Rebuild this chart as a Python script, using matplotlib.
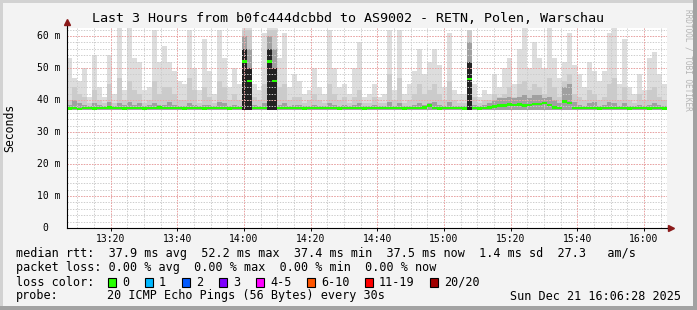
import numpy as np
import matplotlib.pyplot as plt
from matplotlib.patches import Rectangle

plt.rcParams['font.family'] = ['DejaVu Sans Mono']

title = "Last 3 Hours from b0fc444dcbbd to AS9002 - RETN, Polen, Warschau"

# time axis in minutes after 13:00, one smoke step = 1.5 min
t_start = 6.9
t_step = 1.5

median_ms = [
    37.4, 37.5, 37.2, 37.5, 37.5, 37.3, 37.5, 37.5, 37.6, 37.5,
    37.5, 37.3, 37.5, 37.5, 37.5, 37.4, 37.5, 37.5, 37.6, 37.5,
    37.5, 37.5, 37.5, 37.3, 37.5, 37.5, 37.5, 37.4, 37.5, 37.5,
    37.5, 37.5, 37.4, 37.5, 37.5, 52.0, 46.0, 37.5, 37.5, 37.5,
    52.0, 46.0, 37.5, 37.5, 37.5, 37.5, 37.5, 37.3, 37.5, 37.5,
    37.5, 37.5, 37.5, 37.5, 37.3, 37.5, 37.5, 37.5, 37.5, 37.4,
    37.5, 37.5, 37.5, 37.5, 37.5, 37.5, 37.5, 37.4, 37.5, 37.5,
    37.5, 37.6, 38.3, 37.5, 37.3, 37.5, 37.5, 37.5, 37.5, 37.4,
    46.5, 37.5, 37.4, 37.5, 37.6, 37.9, 38.3, 38.2, 38.6, 38.5,
    38.6, 38.3, 38.5, 38.8, 38.7, 39.0, 38.4, 37.6, 37.5, 39.5,
    39.0, 37.5, 37.5, 37.5, 37.5, 37.5, 37.4, 37.5, 37.5, 37.5,
    37.5, 37.5, 37.3, 37.5, 37.5, 37.5, 37.4, 37.5, 37.5, 37.3,
]

# highest ping per step (light smoke top)
smoke_hi = [
    53, 47, 46, 50, 41, 54, 44, 41, 54, 42,
    62.5, 43, 62.5, 53, 52, 43, 44, 62, 52, 57,
    52, 49, 46, 45, 62, 50, 43, 59, 49, 42,
    62, 53, 44, 50, 45, 62.5, 62.5, 45, 43, 61,
    62.5, 62.5, 53, 61, 44, 48, 46, 42, 43, 50,
    44, 42, 62, 50, 44, 45, 42, 50, 58, 41,
    42, 45, 41, 42, 62, 43, 62, 42, 45, 49,
    56, 48, 52, 56, 51, 44, 61, 43, 42, 42,
    62, 45, 41, 43, 42, 48, 44, 50, 53, 45,
    56, 63, 50, 58, 53, 50, 63, 53, 47, 52,
    61, 51, 48, 44, 52, 49, 46, 49, 61, 63,
    45, 59, 44, 42, 48, 43, 53, 55, 48, 45,
]

# upper pings (medium grey smoke top)
smoke_mid = [
    40, 44, 42, 41, 39, 43, 40, 39, 45, 39,
    47, 40, 46, 43, 42, 39, 40, 46, 42, 44,
    44, 42, 40, 40, 47, 43, 39, 44, 41, 39,
    46, 44, 40, 42, 40, 62, 62, 41, 40, 45,
    62, 62, 44, 45, 40, 41, 41, 39, 40, 42,
    40, 39, 45, 42, 40, 41, 39, 41, 43, 39,
    39, 41, 39, 39, 48, 40, 47, 39, 40, 42,
    45, 42, 43, 45, 42, 40, 46, 40, 39, 39,
    62, 41, 39, 40, 40, 42, 41, 42, 44, 41,
    45, 46, 43, 45, 44, 42, 47, 44, 41, 46,
    48, 42, 41, 40, 43, 42, 40, 41, 45, 47,
    40, 44, 40, 39, 42, 40, 43, 44, 41, 40,
]

# inner pings (dark smoke top)
smoke_dark = [
    38.5, 40, 39, 38.5, 38, 39, 38.5, 38, 39.5, 38,
    39, 38.5, 39.5, 38.5, 39, 38, 38.5, 39, 38.5, 38.5,
    39.5, 38.5, 38, 38, 39, 38.5, 38, 38.5, 38.5, 38,
    39.5, 39, 38, 38.5, 38, 60, 56, 38.5, 38, 39,
    60, 56, 38.5, 39, 38, 38.5, 38.5, 38, 38, 38.5,
    38, 38, 39, 38.5, 38, 38.5, 38, 38.5, 39, 38,
    38, 38.5, 38, 38, 39.5, 38, 39, 38, 38, 38.5,
    39, 38.5, 39, 39.5, 38.5, 38, 39.5, 38, 38, 38,
    58, 38.5, 38, 38.5, 39, 40, 40.5, 40.5, 41, 40.5,
    41, 41.5, 40.5, 41.5, 41.5, 40.5, 41, 40, 39, 44,
    45, 39.5, 38.5, 38, 39, 39.5, 38, 38.5, 39.5, 39,
    38, 39, 38, 38, 38.5, 38, 38.5, 39, 38.5, 38,
]

# nearly black core of the three spikes: (step, top)
smoke_core = [(35, 56), (36, 50), (40, 56), (41, 50), (80, 52)]
smoke_floor = 37.0

xtick_min = [20, 40, 60, 80, 100, 120, 140, 160, 180]
xtick_labels = ["13:20", "13:40", "14:00", "14:20", "14:40",
                "15:00", "15:20", "15:40", "16:00"]
ytick_vals = [0, 10, 20, 30, 40, 50, 60]
ytick_labels = ["0", "10 m", "20 m", "30 m", "40 m", "50 m", "60 m"]

stats_lines = [
    "median rtt:  37.9 ms avg  52.2 ms max  37.4 ms min  37.5 ms now  1.4 ms sd  27.3   am/s",
    "packet loss: 0.00 % avg  0.00 % max  0.00 % min  0.00 % now",
]
loss_labels = ["0", "1", "2", "3", "4-5", "6-10", "11-19", "20/20"]
loss_colors = ["#26ff00", "#00b8ff", "#0059ff", "#7e00ff",
               "#ff00ff", "#ff5500", "#ff0000", "#a00000"]
probe_text = "20 ICMP Echo Pings (56 Bytes) every 30s"
stamp = "Sun Dec 21 16:06:28 2025"

W, H = 697, 310


def fx(x):
    return x / W


def fy(y):
    return 1 - y / H


fig = plt.figure(figsize=(W / 100, H / 100), dpi=100, facecolor='#f3f3f3')

# frame of the image
fig.patches.append(Rectangle((0, fy(3)), 1, 3 / H, transform=fig.transFigure,
                             color='#d2d2d2', lw=0, zorder=0))
fig.patches.append(Rectangle((0, 0), 3 / W, 1, transform=fig.transFigure,
                             color='#d2d2d2', lw=0, zorder=0))
fig.patches.append(Rectangle((0, 0), 1, 4 / H, transform=fig.transFigure,
                             color='#a2a2a2', lw=0, zorder=0))
fig.patches.append(Rectangle((1 - 4 / W, 0), 4 / W, 1, transform=fig.transFigure,
                             color='#a2a2a2', lw=0, zorder=0))

ax = fig.add_axes([fx(67), 82 / H, 600 / W, 200 / H])
ax.set_facecolor('white')

n = len(median_ms)
edges = t_start + t_step * np.arange(n + 1)


def ext(a):
    a = np.asarray(a, dtype=float)
    return np.append(a, a[-1])


ax.fill_between(edges, smoke_floor, ext(smoke_hi), step='post', color='#dddddd', lw=0, zorder=1)
ax.fill_between(edges, smoke_floor, ext(smoke_mid), step='post', color='#cbcbcb', lw=0, zorder=1)
ax.fill_between(edges, smoke_floor, ext(smoke_dark), step='post', color='#a0a0a0', lw=0, zorder=1)
for i, top in smoke_core:
    ax.fill_between([edges[i], edges[i + 1]], smoke_floor, top, color='#222222', lw=0, zorder=1)

med = ext(median_ms)
ax.fill_between(edges, med - 0.4, med + 0.4, step='post', color='#26ff00', lw=0, zorder=4)

ax.set_xlim(t_start, t_start + 180)
ax.set_ylim(0, 62.5)

# grid: minor grey, major red, both dotted
dots = (0, (1.4, 1.4))
for v in np.arange(10, 186, 5):
    ax.axvline(v, color='#cccccc', lw=0.7, ls=dots, zorder=2)
for v in np.arange(2, 63, 2):
    ax.axhline(v, color='#cccccc', lw=0.7, ls=dots, zorder=2)
for v in xtick_min:
    ax.axvline(v, color='#f0a0a0', lw=0.7, ls=dots, zorder=2.1)
for v in ytick_vals[1:]:
    ax.axhline(v, color='#f0a0a0', lw=0.7, ls=dots, zorder=2.1)

for s in ['top', 'right']:
    ax.spines[s].set_visible(False)
for s in ['left', 'bottom']:
    ax.spines[s].set_color('black')
    ax.spines[s].set_linewidth(0.8)
    ax.spines[s].set_zorder(5)

ax.set_xticks(xtick_min, xtick_labels)
ax.set_yticks(ytick_vals, [])
ax.tick_params(axis='x', length=2, width=0.7, pad=2, labelsize=7)
ax.tick_params(axis='y', length=0)

ytr = ax.get_yaxis_transform()
for v, lab in zip(ytick_vals, ytick_labels):
    xa = (48.5 - 67) / 600 if lab == "0" else (60.5 - 67) / 600
    ax.text(xa, v, lab, transform=ytr, ha='right', va='center', fontsize=7)

# axis arrows
ax.plot([0, 0], [1, 1.03], transform=ax.transAxes, color='black', lw=0.8, clip_on=False, zorder=5)
ax.plot([0], [1.03], transform=ax.transAxes, marker='^', ms=4.5, color='#8b1a1a',
        clip_on=False, zorder=6)
ax.plot([1, 1.006], [0, 0], transform=ax.transAxes, color='black', lw=0.8, clip_on=False, zorder=5)
ax.plot([1.006], [0], transform=ax.transAxes, marker='>', ms=4.5, color='#8b1a1a',
        clip_on=False, zorder=6)

fig.text(fx(348), fy(19), title, ha='center', va='center', fontsize=9.6)
fig.text(fx(10), fy(128), "Seconds", rotation=90, ha='center', va='center', fontsize=8.3)
fig.text(fx(688), fy(60), "RRDTOOL / TOBI OETIKER", rotation=270, ha='center', va='center',
         fontsize=5.6, color='#b4b4b4')

fig.text(fx(16), fy(254), stats_lines[0], ha='left', va='center', fontsize=8.5)
fig.text(fx(16), fy(268), stats_lines[1], ha='left', va='center', fontsize=8.5)
fig.text(fx(16), fy(282), "loss color:", ha='left', va='center', fontsize=8.5)
bx = 108
for lab, col in zip(loss_labels, loss_colors):
    fig.patches.append(Rectangle((fx(bx), fy(286.5)), 8 / W, 9 / H, transform=fig.transFigure,
                                 facecolor=col, edgecolor='black', lw=0.8, zorder=3))
    fig.text(fx(bx + 14), fy(282), lab, ha='left', va='center', fontsize=8.5)
    bx += 30 + 7 * len(lab)
fig.text(fx(16), fy(296), "probe:", ha='left', va='center', fontsize=8.5)
fig.text(fx(107), fy(296), probe_text, ha='left', va='center', fontsize=8.5)
fig.text(fx(681), fy(296), stamp, ha='right', va='center', fontsize=8.5)

fig.savefig('out.png', dpi=100, facecolor=fig.get_facecolor())
